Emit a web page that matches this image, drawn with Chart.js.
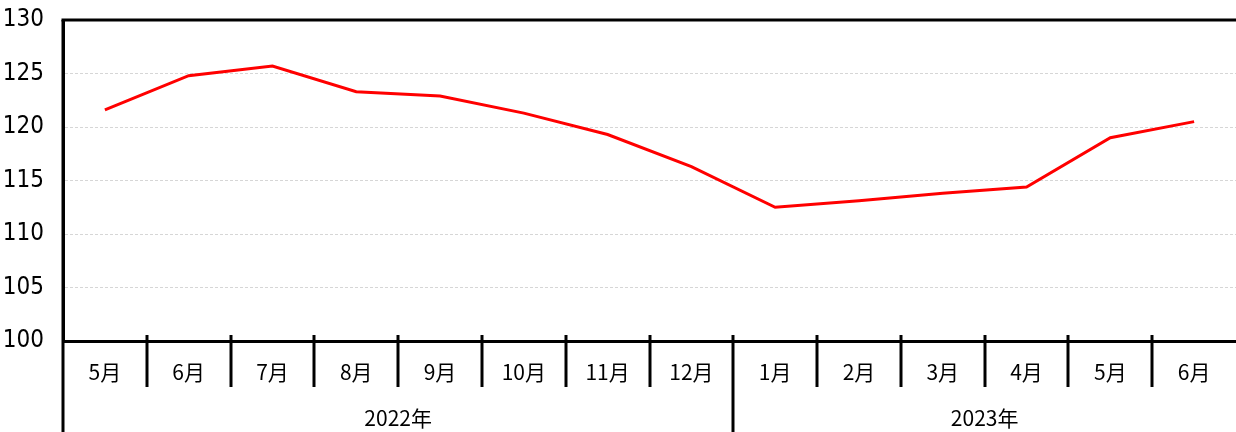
<!DOCTYPE html>
<html>
<head>
<meta charset="utf-8">
<script src="https://cdn.jsdelivr.net/npm/chart.js@4"></script>
<style>
  html, body { margin: 0; padding: 0; background: #fff; }
  #wrap { width: 1236px; height: 432px; }
</style>
</head>
<body>
<div id="wrap"><canvas id="chart" width="1236" height="432"></canvas></div>
<script>
const months = ['5月', '6月', '7月', '8月', '9月', '10月', '11月', '12月', '1月', '2月', '3月', '4月', '5月', '6月'];
const values = [121.6, 124.8, 125.7, 123.3, 122.9, 121.3, 119.3, 116.3, 112.5, 113.1, 113.8, 114.4, 119.0, 120.5];
const years = ['2022年', '2023年'];
const yearSpans = [8, 6];
const yMin = 100;
const yMax = 130;
const yStep = 5;

const labelFont = "'Noto Sans CJK JP', 'Noto Sans', sans-serif";

// draws the frame, the category separators and the year row under the months
const axisExtras = {
    id: 'axisExtras',
    afterDraw(chart) {
        const ctx = chart.ctx;
        const x = chart.scales.x;
        const area = chart.chartArea;
        const h = chart.height;
        const edge = (i) => (x.getPixelForValue(i - 1) + x.getPixelForValue(i)) / 2;

        ctx.save();
        ctx.strokeStyle = '#000';
        ctx.lineWidth = 3;
        // top border
        ctx.beginPath();
        ctx.moveTo(area.left - 1.5, area.top);
        ctx.lineTo(area.right, area.top);
        ctx.stroke();
        // left axis runs down through the label rows
        ctx.beginPath();
        ctx.moveTo(area.left, area.top);
        ctx.lineTo(area.left, h);
        ctx.stroke();

        // month separators
        let yearEnds = [];
        let acc = 0;
        yearSpans.forEach(n => { acc += n; yearEnds.push(acc); });
        for (let i = 1; i < months.length; i++) {
            const px = Math.round(edge(i));
            const full = yearEnds.includes(i);
            ctx.beginPath();
            ctx.moveTo(px, area.bottom - 6);
            ctx.lineTo(px, full ? h : area.bottom + 46);
            ctx.stroke();
        }

        // year labels
        ctx.fillStyle = '#000';
        ctx.font = "21px " + labelFont;
        ctx.textAlign = 'center';
        ctx.textBaseline = 'middle';
        let start = 0;
        years.forEach((yr, k) => {
            const end = start + yearSpans[k];
            const left = edge(start);
            const right = Math.min(edge(end), chart.width);
            ctx.fillText(yr, (left + right) / 2, area.bottom + 77);
            start = end;
        });
        ctx.restore();
    }
};

const ctx = document.getElementById('chart').getContext('2d');
new Chart(ctx, {
    type: 'line',
    data: {
        labels: months,
        datasets: [{
            data: values,
            borderColor: '#ff0000',
            borderWidth: 3,
            pointRadius: 0,
            tension: 0,
            fill: false
        }]
    },
    options: {
        responsive: false,
        animation: false,
        layout: { padding: { top: 20, left: 0, right: 0, bottom: 0 } },
        scales: {
            x: {
                offset: true,
                grid: { display: false },
                border: { display: true, color: '#000', width: 3 },
                ticks: {
                    color: '#000',
                    padding: 10,
                    maxRotation: 0,
                    autoSkip: false,
                    font: { family: labelFont, size: 21 }
                },
                afterFit(scale) {
                    scale.height = 91;
                    scale.paddingLeft = 0;
                    scale.paddingRight = 0;
                }
            },
            y: {
                min: yMin,
                max: yMax,
                ticks: {
                    stepSize: yStep,
                    color: '#000',
                    padding: 19,
                    font: { family: "'Liberation Sans Narrow', 'DejaVu Sans Condensed', sans-serif", size: 24 }
                },
                grid: {
                    drawTicks: false,
                    color: (c) => (c.tick && (c.tick.value === yMin || c.tick.value === yMax)) ? 'rgba(0,0,0,0)' : '#d6d6d6',
                    lineWidth: 1
                },
                border: { display: true, color: '#000', width: 3, dash: [3, 2] },
                afterFit(scale) {
                    scale.width = 63;
                    scale.paddingTop = 0;
                    scale.paddingBottom = 0;
                }
            }
        },
        plugins: {
            legend: { display: false },
            title: { display: false },
            tooltip: { enabled: false }
        }
    },
    plugins: [axisExtras]
});
</script>
</body>
</html>
